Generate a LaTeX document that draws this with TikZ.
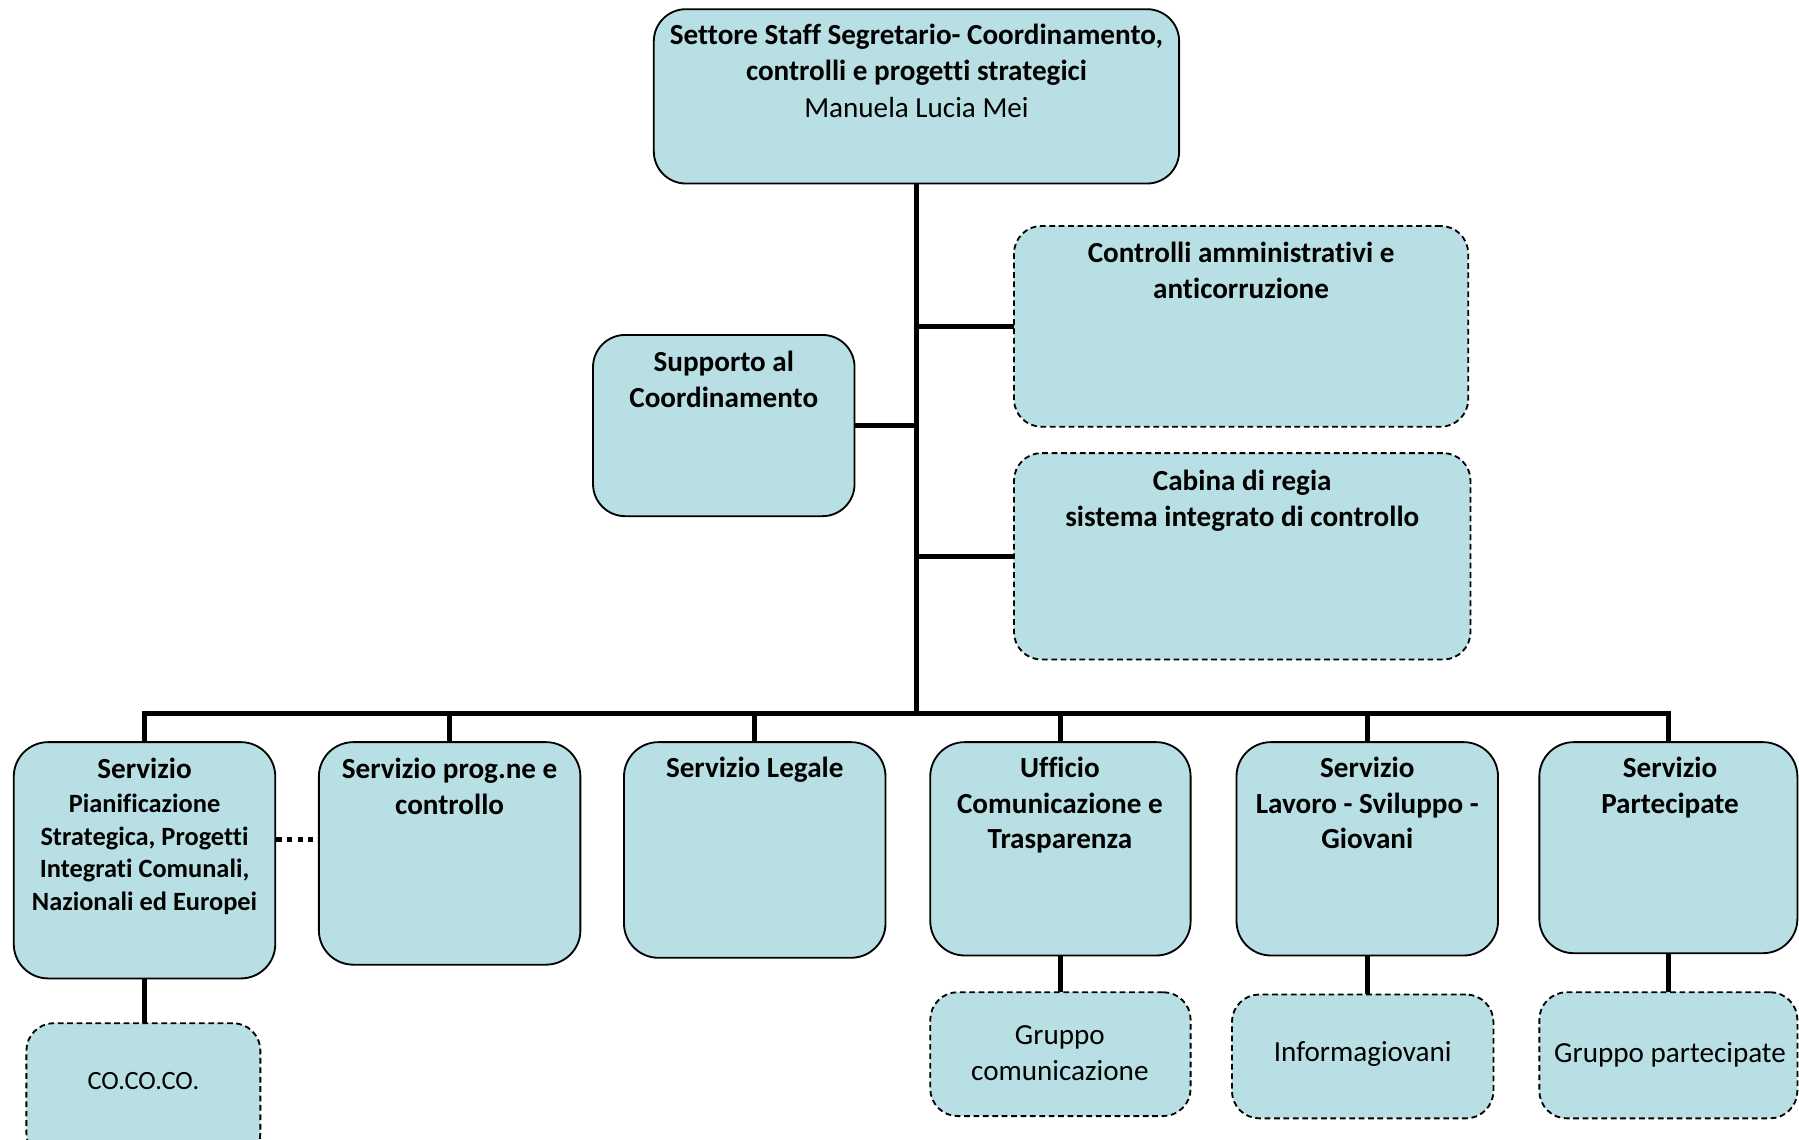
\documentclass[tikz,border=0pt]{standalone}
\usepackage{fontspec}
\setmainfont{Carlito}[Ligatures=NoCommon]
\definecolor{boxfill}{RGB}{184,223,227}
\newcommand\mybox[6]{\node[#6, minimum width={(#4-#2)*0.5pt}, minimum height={(#5-#3)*0.5pt}] (#1) at ({(#2+#4)/2},{(#3+#5)/2}) {};}
\begin{document}
\begin{tikzpicture}[x=0.5pt,y=-0.5pt,
 box/.style={draw=black, line width=0.8pt, fill=boxfill, rounded corners=14pt, inner sep=0pt, outer sep=0pt},
 dbox/.style={box, dash pattern=on 2.5pt off 1.6pt, rounded corners=12pt},
 conn/.style={line width=2.3pt, draw=black, line join=miter},
 dotconn/.style={line width=2.3pt, dash pattern=on 2.3pt off 2.3pt},
 bt/.style={font=\fontsize{12.7}{15.5}\selectfont\bfseries, align=center, anchor=base, inner sep=0pt},
 st/.style={font=\fontsize{11.5}{14.3}\selectfont\bfseries, align=center, anchor=base, inner sep=0pt},
 rt/.style={font=\fontsize{12.7}{15.5}\selectfont, align=center, anchor=base, inner sep=0pt},
 rst/.style={font=\fontsize{11.5}{14.3}\selectfont, align=center, anchor=base, inner sep=0pt},
]
\useasboundingbox[fill=white] (0,0) rectangle (1568.4,993);
% boxes
\mybox{top}{570}{8}{1028}{160}{box}
\mybox{sup}{517}{292}{745}{450}{box}
\mybox{ctrl}{884}{197}{1280}{372}{dbox}
\mybox{cab}{884}{395}{1282}{575}{dbox}
\mybox{b1}{12}{647}{240}{853}{box,rounded corners=15pt}
\mybox{b2}{278}{647}{506}{841}{box,rounded corners=15pt}
\mybox{b3}{544}{647}{772}{835}{box,rounded corners=15pt}
\mybox{b4}{811}{647}{1038}{833}{box,rounded corners=15pt}
\mybox{b5}{1078}{647}{1306}{833}{box,rounded corners=15pt}
\mybox{b6}{1342}{647}{1567}{831}{box,rounded corners=15pt}
\mybox{c1}{23}{892}{227}{1012}{dbox}
\mybox{g4}{811}{865}{1038}{973}{dbox}
\mybox{g5}{1074}{867}{1302}{975}{dbox}
\mybox{g6}{1342}{865}{1567}{975}{dbox}
% connectors
\coordinate (bus) at (799,622);
\draw[conn] (top.south) -- (bus);
\draw[conn] (b1.north) -- (b1.north |- bus) -- (b6.north |- bus) -- (b6.north);
\foreach \b in {b2,b3,b4,b5} \draw[conn] (\b.north) -- (\b.north |- bus);
\draw[conn] (sup.east) -- (sup.east -| bus);
\draw[conn] (ctrl.west) -- (ctrl.west -| bus);
\draw[conn] (cab.west) -- (cab.west -| bus);
\draw[conn] (b1.south) -- (b1.south |- c1.north);
\draw[conn] (b4.south) -- (b4.south |- g4.north);
\draw[conn] (b5.south) -- (b5.south |- g5.north);
\draw[conn] (b6.south) -- (b6.south |- g6.north);
\coordinate (d1) at (241,732);
\draw[dotconn] (d1) -- (d1 -| b2.west);
% texts (base = baseline of the last line)
\node[bt] (ttop) at (799,70) {Settore Staff Segretario- Coordinamento,\\controlli e progetti strategici};
\node[rt] (ttop2) at (799,102) {Manuela Lucia Mei};
\node[bt] (tsup) at (631,355) {Supporto al\\Coordinamento};
\node[bt] (tctrl) at (1082,260) {Controlli amministrativi e\\anticorruzione};
\node[bt] (tcab) at (1083,459) {Cabina di regia\\sistema integrato di controllo};
\node[bt] (tb1) at (126,679) {Servizio};
\node[st] (tb1b) at (126,794) {Pianificazione\\Strategica, Progetti\\Integrati Comunali,\\Nazionali ed Europei};
\node[bt] (tb2) at (392,710) {Servizio prog.ne e\\controllo};
\node[bt] (tb3) at (658,678) {Servizio Legale};
\node[bt] (tb4) at (924,740) {Ufficio\\Comunicazione e\\Trasparenza};
\node[bt] (tb5) at (1192,740) {Servizio\\Lavoro - Sviluppo -\\Giovani};
\node[bt] (tb6) at (1456,709) {Servizio\\Partecipate};
\node[rst] (tc1) at (125,950) {CO.CO.CO.};
\node[rt] (tg4) at (924,942) {Gruppo\\comunicazione};
\node[rt] (tg5) at (1188,925) {Informagiovani};
\node[rt] (tg6) at (1456,926) {Gruppo partecipate};
\end{tikzpicture}
\end{document}
